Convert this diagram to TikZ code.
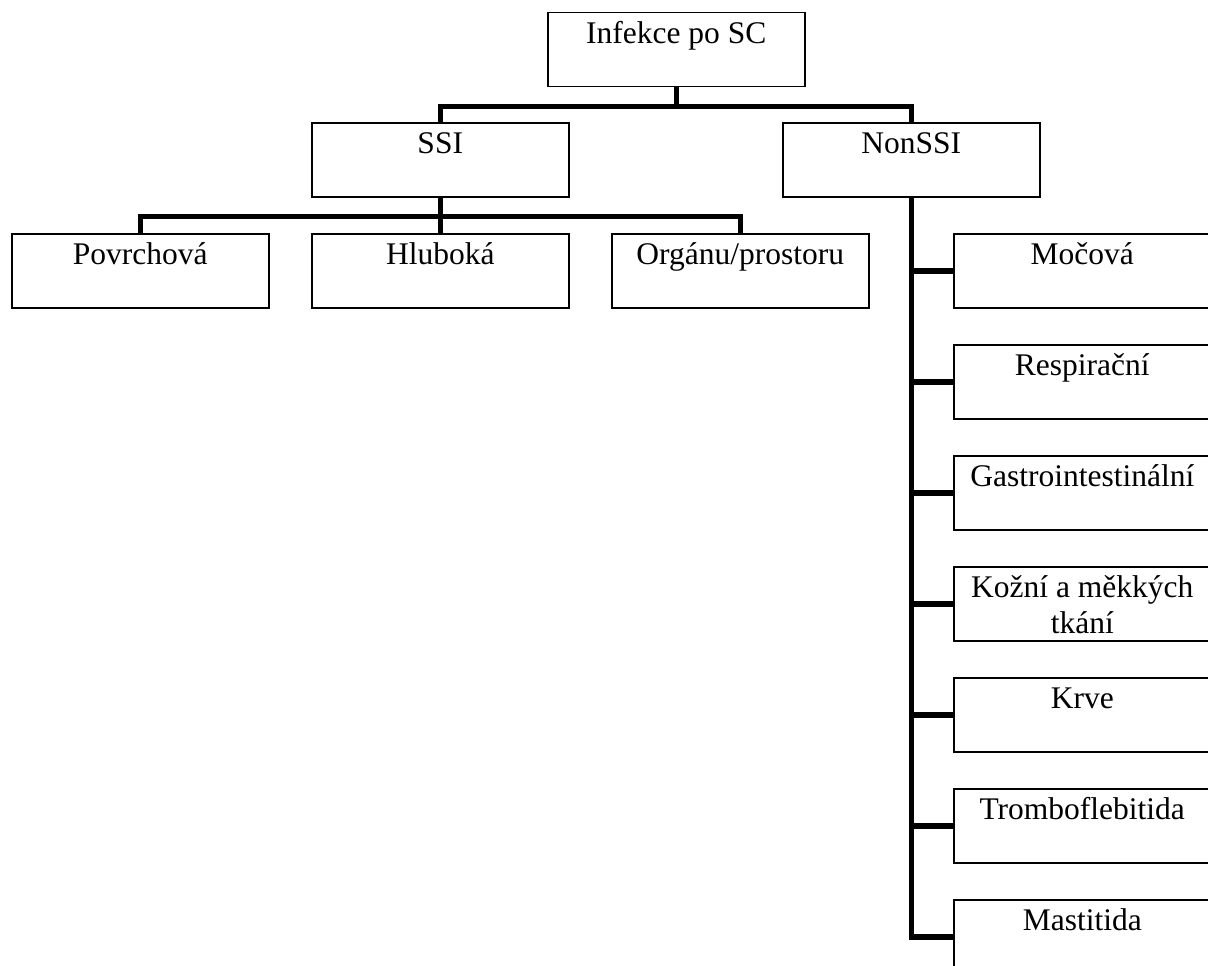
\documentclass[tikz,border=0pt]{standalone}
\usepackage{fontspec}
\setmainfont{Liberation Serif}
\tikzset{
  orgbox/.style={draw=black, line width=1.5pt, inner sep=0pt, anchor=north west,
    font=\fontsize{31.5}{36}\selectfont},
  conn/.style={draw=black, line width=5.5pt}
}
\newcommand{\bt}[1]{\parbox[c][74pt][t]{257pt}{\centering\rule{0pt}{30.5pt}#1}}
\begin{document}
\begin{tikzpicture}[x=1pt,y=-1pt]
\useasboundingbox (0,0) rectangle (1208,966);
\clip (0,0) rectangle (1208,966);
\node[orgbox] (top) at (547,12) {\bt{Infekce po SC}};
\node[orgbox] (ssi) at (311,122) {\bt{SSI}};
\node[orgbox] (non) at (782,122) {\bt{NonSSI}};
\node[orgbox] (pov) at (11,233) {\bt{Povrchová}};
\node[orgbox] (hlu) at (311,233) {\bt{Hluboká}};
\node[orgbox] (org) at (611,233) {\bt{Orgánu/prostoru}};
\node[orgbox] (r1) at (953,233) {\bt{Močová}};
\node[orgbox] (r2) at (953,344) {\bt{Respirační}};
\node[orgbox] (r3) at (953,455) {\bt{Gastrointestinální}};
\node[orgbox] (r4) at (953,566) {\bt{Kožní a měkkých\\tkání}};
\node[orgbox] (r5) at (953,677) {\bt{Krve}};
\node[orgbox] (r6) at (953,788) {\bt{Tromboflebitida}};
\node[orgbox] (r7) at (953,899) {\bt{Mastitida}};
% level 1
\draw[conn] (top.south) -- ++(0,19) coordinate (j1);
\draw[conn] (j1) -| (ssi.north);
\draw[conn] (j1) -| (non.north);
% SSI children
\draw[conn] (ssi.south) -- ++(0,19) coordinate (j2);
\draw[conn] (j2) -| (pov.north);
\draw[conn] (j2) -| (org.north);
\draw[conn] (j2) -- (hlu.north);
% NonSSI children
\draw[conn] (non.south) |- (r7.west);
\foreach \n in {r1,r2,r3,r4,r5,r6}{
  \draw[conn] (non.south |- \n.west) -- (\n.west);
}
\end{tikzpicture}
\end{document}
